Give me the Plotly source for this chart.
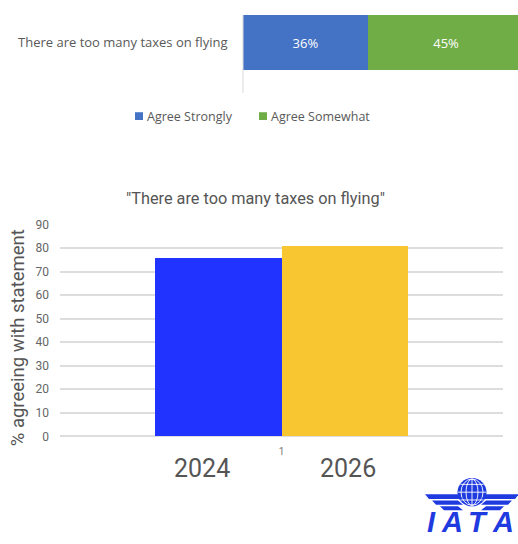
import plotly.graph_objects as go

W, H = 518, 544

# ---- data ----
statement = ["There are too many taxes on flying"]
top_series = ["Agree Strongly", "Agree Somewhat"]
top_values = [36, 45]
top_colors = ["#4472C4", "#70AD47"]

bottom_title = '"There are too many taxes on flying"'
bottom_category = ["1"]
years = ["2024", "2026"]
pct_agree = [76, 81]
year_colors = ["#2033FF", "#F8C630"]
y_ticks = [0, 10, 20, 30, 40, 50, 60, 70, 80, 90]
y_title = "% agreeing with statement"
logo_letters = ["I", "A", "T", "A"]


def px(x):
    return x / W


def py(y):
    return 1 - y / H


fig = go.Figure()

# ---- top stacked horizontal bar ----
for name, val, col in zip(top_series, top_values, top_colors):
    fig.add_trace(go.Bar(
        x=[val], y=[0.5], width=[1], orientation="h", name=name,
        marker=dict(color=col, line=dict(width=0)),
        text=[f"{val}%"], textposition="inside", insidetextanchor="middle",
        textfont=dict(color="white", size=13, family="Open Sans"),
        xaxis="x", yaxis="y", showlegend=False, cliponaxis=True,
    ))

# ---- bottom grouped bar ----
for i, (yr, val, col) in enumerate(zip(years, pct_agree, year_colors)):
    fig.add_trace(go.Bar(
        x=bottom_category, y=[val], name=yr, offsetgroup=str(i),
        marker=dict(color=col, line=dict(width=0)),
        xaxis="x2", yaxis="y2", showlegend=False,
    ))

annotations = []
annotations.append(dict(
    text=statement[0], xref="paper", yref="paper", x=px(230), y=py(36),
    xanchor="right", yanchor="middle", showarrow=False,
    font=dict(size=13, color="#595959", family="Open Sans")))

# legend (top)
leg_x = [135, 259]
shapes = []
for lx, name, col in zip(leg_x, top_series, top_colors):
    shapes.append(dict(type="rect", xref="paper", yref="paper",
                       x0=px(lx), x1=px(lx + 8), y0=py(116), y1=py(108),
                       fillcolor=col, line=dict(width=0)))
    annotations.append(dict(
        text=name, xref="paper", yref="paper", x=px(lx + 10), y=py(112),
        xanchor="left", yanchor="middle", showarrow=False,
        font=dict(size=12.5, color="#595959", family="Open Sans")))

# bottom title
annotations.append(dict(
    text=bottom_title, xref="paper", yref="paper", x=px(255), y=py(197),
    xanchor="center", yanchor="middle", showarrow=False,
    font=dict(size=16.3, color="#555555", family="Roboto")))

# y-axis title
annotations.append(dict(
    text=y_title, xref="paper", yref="paper", x=px(18), y=py(340),
    xanchor="center", yanchor="middle", textangle=-90, showarrow=False,
    font=dict(size=18.5, color="#555555", family="Roboto")))

# year labels
for xc, yr in zip([202, 348], years):
    annotations.append(dict(
        text=yr, xref="paper", yref="paper", x=px(xc), y=py(474),
        xanchor="center", yanchor="middle", showarrow=False,
        font=dict(size=25, color="#555555", family="Roboto")))

# ---- IATA logo ----
logo_blue = "#1F3BE0"
gcx, gcy, gr = 472, 498, 14.5
shapes.append(dict(type="circle", xref="paper", yref="paper",
                   x0=px(gcx - gr), x1=px(gcx + gr), y0=py(gcy + gr), y1=py(gcy - gr),
                   fillcolor=logo_blue, line=dict(color=logo_blue, width=0)))
for rx in [6, 11]:
    shapes.append(dict(type="circle", xref="paper", yref="paper",
                       x0=px(gcx - rx), x1=px(gcx + rx), y0=py(gcy + gr - 1), y1=py(gcy - gr + 1),
                       line=dict(color="white", width=0.9)))
shapes.append(dict(type="line", xref="paper", yref="paper",
                   x0=px(gcx), x1=px(gcx), y0=py(gcy + gr - 0.5), y1=py(gcy - gr + 0.5),
                   line=dict(color="white", width=0.9)))
for dy, half in [(-8, 11.5), (0, 14), (8, 11.5)]:
    shapes.append(dict(type="line", xref="paper", yref="paper",
                       x0=px(gcx - half), x1=px(gcx + half), y0=py(gcy + dy), y1=py(gcy + dy),
                       line=dict(color="white", width=0.9)))

stripes = [(425, 500, 5), (432, 506.5, 4.5), (440, 512.5, 4)]
for x_out, y_top, h in stripes:
    for side in (-1, 1):
        xo = gcx + side * (gcx - x_out)
        xi = gcx + side * 14
        xi2 = gcx + side * 9
        path = (f"M {px(xo)},{py(y_top)} L {px(xi)},{py(y_top)} "
                f"L {px(xi2)},{py(y_top + h)} L {px(xo + side * -4)},{py(y_top + h)} Z")
        shapes.append(dict(type="path", xref="paper", yref="paper", path=path,
                           fillcolor=logo_blue, line=dict(width=0)))

for lx, ch in zip([431, 452, 478, 503], logo_letters):
    annotations.append(dict(
        text=f"<b><i>{ch}</i></b>", xref="paper", yref="paper", x=px(lx), y=py(529),
        xanchor="center", yanchor="middle", showarrow=False,
        font=dict(size=29, color=logo_blue, family="Liberation Sans")))

# thin axis line of the top chart
shapes.append(dict(type="line", xref="paper", yref="paper",
                   x0=px(243), x1=px(243), y0=py(88), y1=py(8),
                   line=dict(color="#d9d9d9", width=1)))

fig.update_layout(
    width=W, height=H,
    margin=dict(l=0, r=0, t=0, b=0),
    paper_bgcolor="white", plot_bgcolor="white",
    barmode="stack",
    bargap=0.43, bargroupgap=0,
    xaxis=dict(domain=[px(243), 1.0], range=[0, 79.2], showgrid=False,
               zeroline=False, showticklabels=False, showline=False, fixedrange=True),
    yaxis=dict(domain=[py(88), py(8)], range=[-0.4, 1.0], showgrid=False,
               zeroline=False, showticklabels=False, showline=False),
    xaxis2=dict(domain=[px(60), px(503)], anchor="y2", showgrid=False,
                zeroline=False, showline=False, ticks="",
                tickfont=dict(size=10, color="#777777", family="Roboto"),
                ticklabelstandoff=8),
    yaxis2=dict(domain=[py(440.7), py(223.3)], range=[0, 90], anchor="x2",
                tickvals=y_ticks, showgrid=True, gridcolor="#dddddd", gridwidth=1.5,
                zeroline=True, zerolinecolor="#dddddd", zerolinewidth=1.5,
                showline=False, ticks="", ticklabelstandoff=10,
                tickfont=dict(size=12, color="#666666", family="Roboto")),
    annotations=annotations,
    shapes=shapes,
)

fig.write_html("out.html")
